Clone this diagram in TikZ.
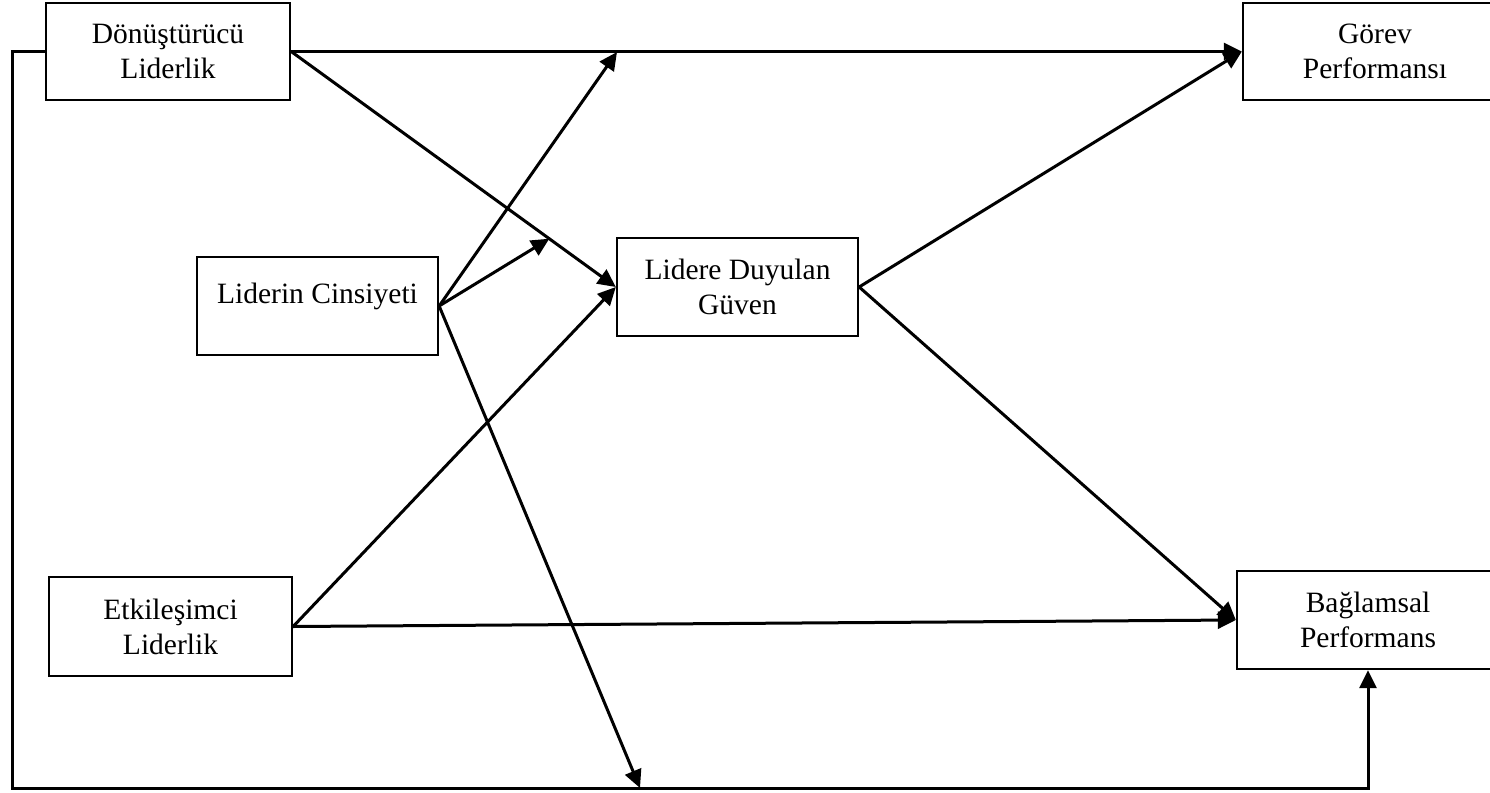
\documentclass[tikz,border=0pt]{standalone}
\usepackage{fontspec}
\setmainfont{Liberation Serif}
\usetikzlibrary{arrows.meta,calc}
\begin{document}
\begin{tikzpicture}[x=1pt,y=-1pt,
  box/.style={draw=black,line width=2.3pt,inner sep=0pt,align=center,
    font=\fontsize{29.5}{35}\selectfont},
  conn/.style={line width=3pt,-{Triangle[length=18pt,width=17pt]}}]
\clip (0,0) rectangle (1490,792);
\fill[white] (0,0) rectangle (1490,792);
% boxes
\node[box,minimum width=244pt,minimum height=97pt] (D) at (168,51.5) {Dönüştürücü\\Liderlik};
\node[box,minimum width=264pt,minimum height=97pt] (G) at (1375,51.5) {Görev\\Performansı};
\node[box,minimum width=241pt,minimum height=98pt] (LC) at (317.5,306) {};
\node[font=\fontsize{29.5}{35}\selectfont,anchor=base] (LCt) at (317.5,303) {Liderin Cinsiyeti};
\node[box,minimum width=241pt,minimum height=98pt] (L) at (737.5,287) {Lidere Duyulan\\Güven};
\node[box,minimum width=243pt,minimum height=99pt] (E) at (170.5,626.5) {Etkileşimci\\Liderlik};
\node[box,minimum width=262pt,minimum height=98pt] (B) at (1368,620) {Bağlamsal\\Performans};
% helper coordinates
\coordinate (m1) at (617,52);
\coordinate (m2) at ($(D.east)!0.795!(L.west)$);
\coordinate (c1) at (12,788);
\coordinate (m3) at (640,788);
% connectors
\draw[conn] (D.east) -- (G.west);
\draw[conn] (D.east) -- (L.west);
\draw[conn] (E.east) -- (L.west);
\draw[conn] (E.east) -- (B.west);
\draw[conn] (L.east) -- (G.west);
\draw[conn] (L.east) -- (B.west);
\draw[conn] (LC.east) -- (m1);
\draw[conn] (LC.east) -- (m2);
\draw[conn] (LC.east) -- (m3);
\draw[conn] (D.west) -| (c1) -| (B.south);
\end{tikzpicture}
\end{document}
